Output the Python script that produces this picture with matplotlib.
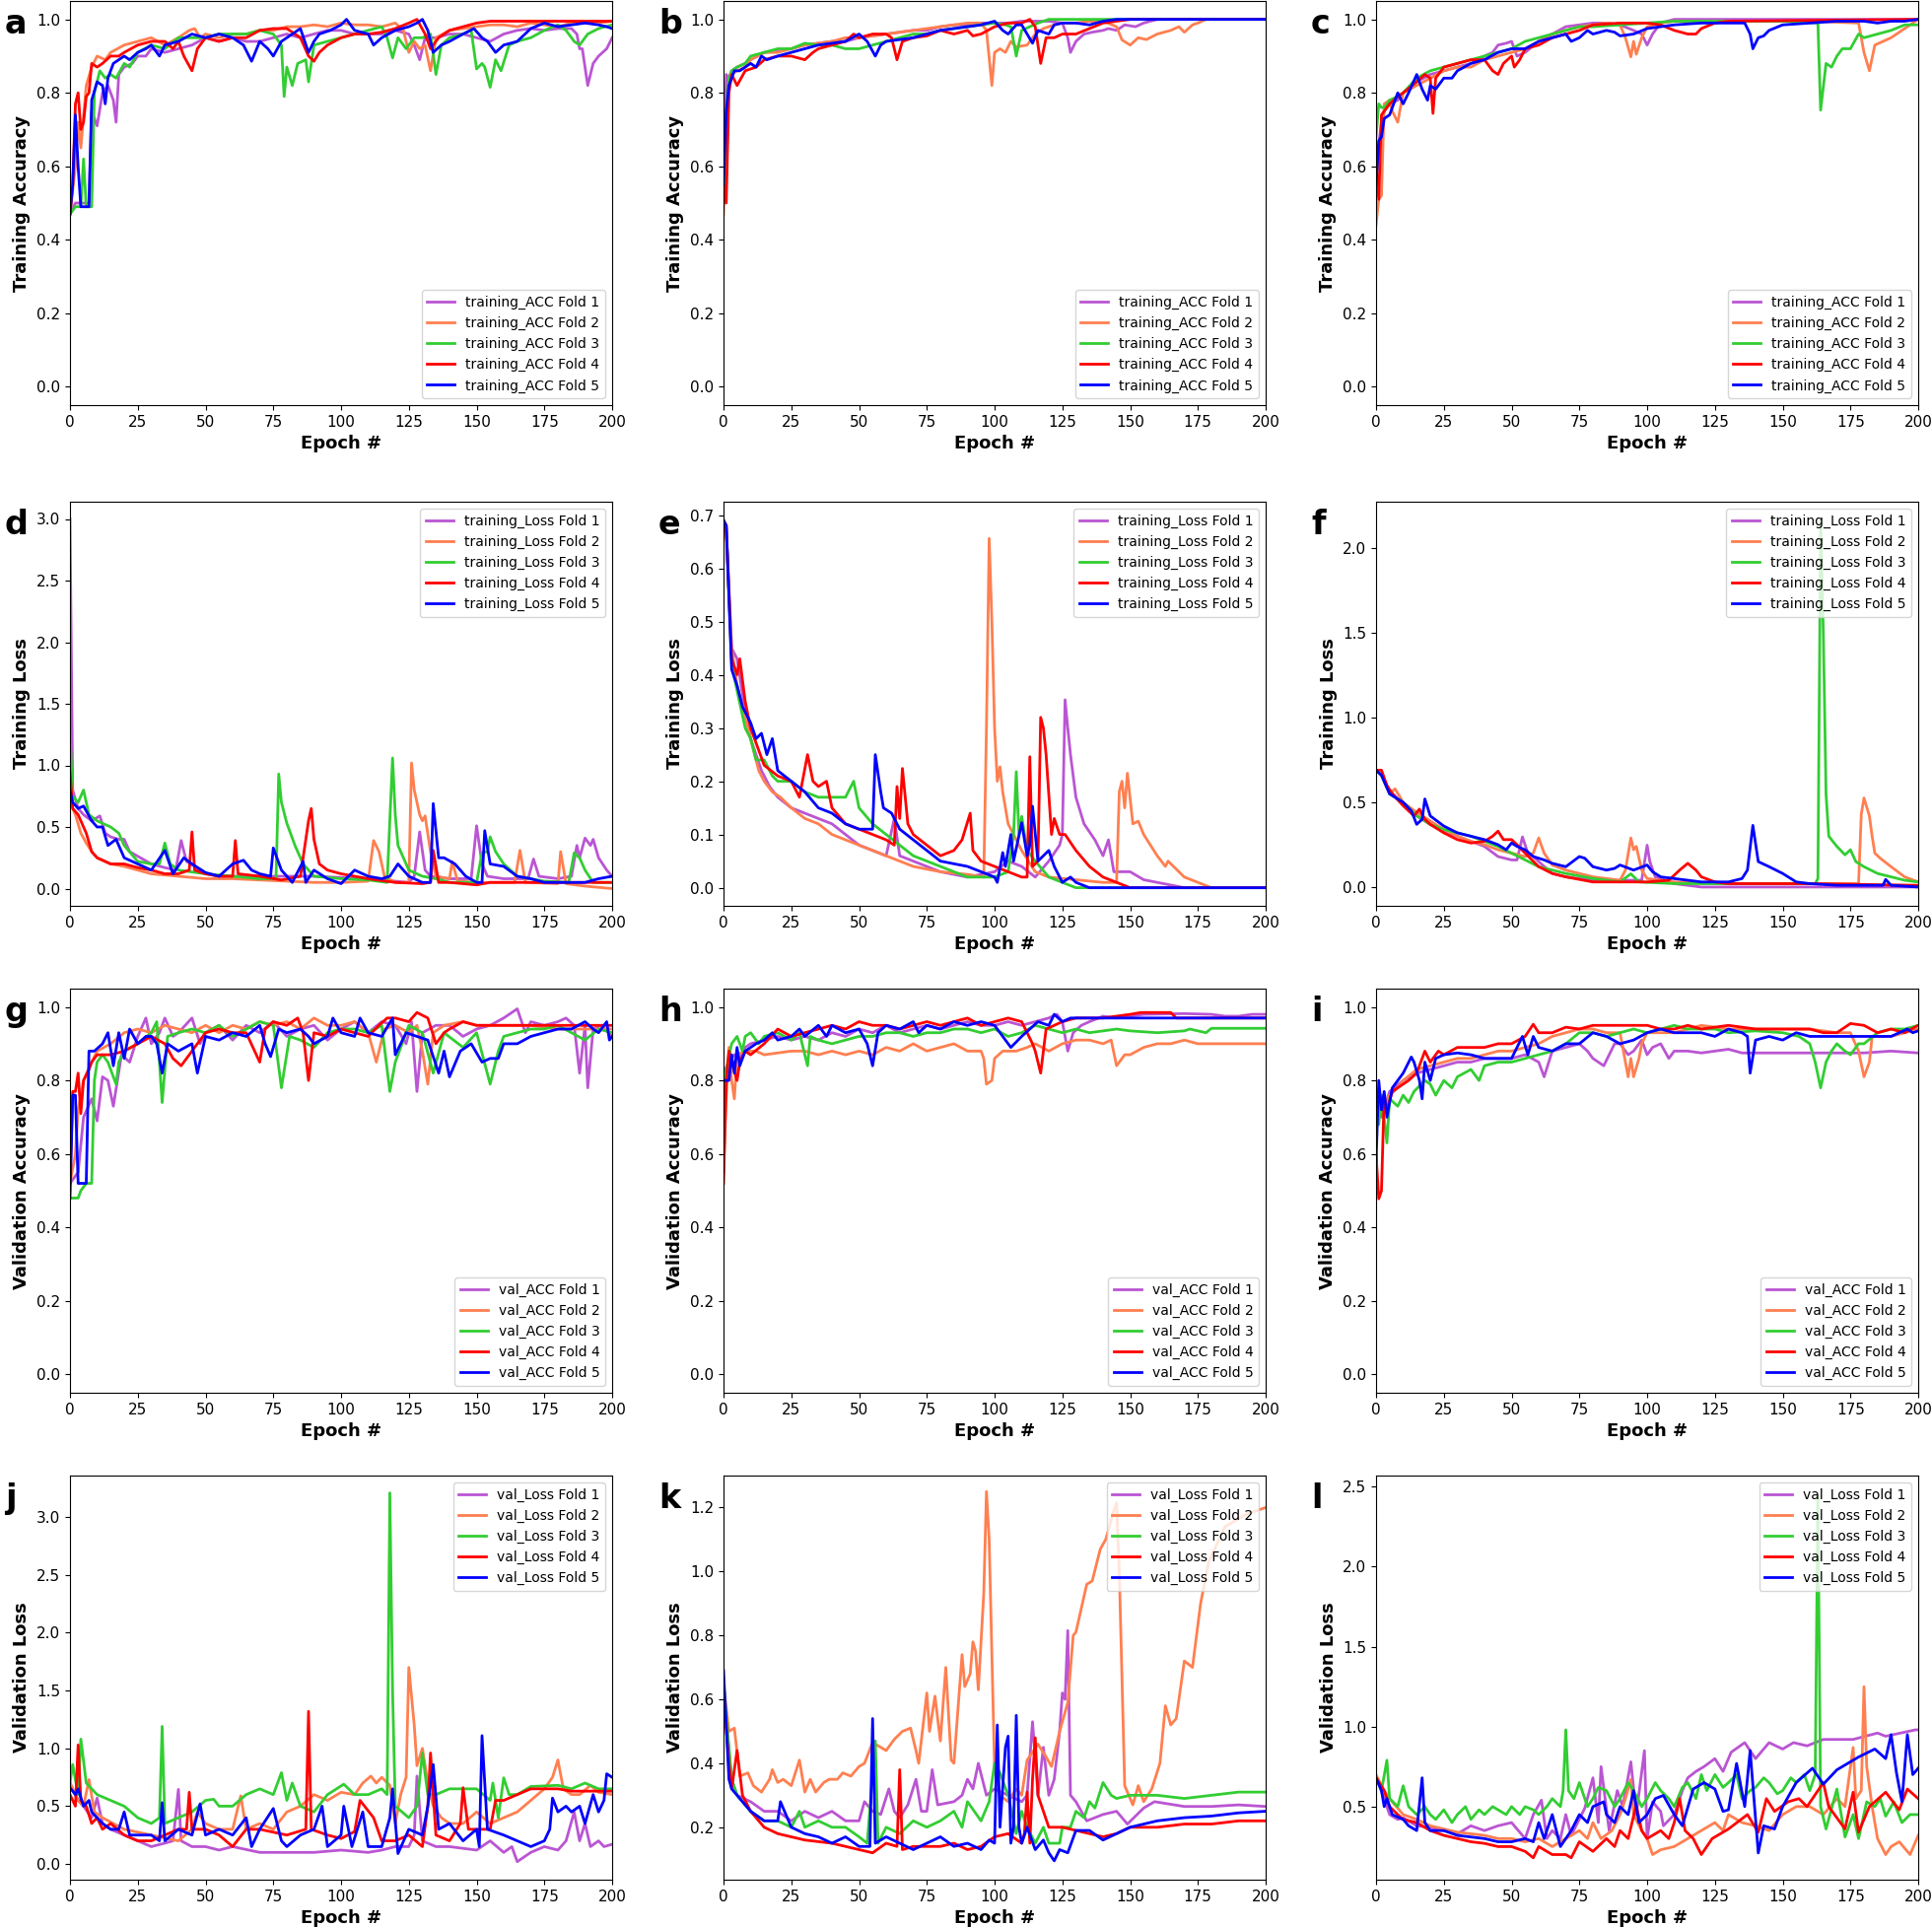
import matplotlib
matplotlib.use("Agg")
import matplotlib.pyplot as plt

# (epoch, value) pairs, fold 1..5 per panel

# a: training accuracy, model 1
a1 = [(0,.47),(2,.5),(5,.5),(7,.5),(8,.75),(10,.71),(12,.8),(14,.82),(16,.78),(17,.72),(18,.85),(20,.87),(23,.88),(25,.9),(28,.9),(30,.92),(35,.91),(40,.92),(45,.93),(50,.95),(55,.94),(60,.95),(65,.94),(70,.94),(75,.95),(80,.96),(85,.95),(90,.96),(95,.97),(100,.97),(105,.96),(110,.96),(115,.96),(120,.97),(125,.96),(127,.93),(129,.89),(131,.95),(135,.95),(140,.96),(145,.96),(150,.95),(155,.94),(160,.96),(165,.97),(170,.975),(175,.97),(180,.975),(185,.975),(187,.96),(188,.92),(189,.92),(191,.82),(193,.88),(195,.9),(198,.92),(200,.95)]
a2 = [(0,.47),(2,.6),(3,.72),(4,.65),(6,.82),(8,.87),(10,.9),(13,.89),(15,.91),(20,.93),(25,.94),(30,.95),(35,.93),(40,.95),(44,.97),(46,.975),(48,.95),(50,.96),(55,.95),(60,.96),(65,.96),(70,.97),(75,.97),(80,.98),(85,.98),(90,.985),(95,.98),(100,.99),(105,.985),(110,.985),(115,.98),(120,.99),(123,.97),(125,.91),(127,.94),(129,.92),(131,.93),(133,.86),(135,.95),(140,.97),(145,.975),(150,.98),(155,.985),(160,.985),(165,.98),(170,.99),(175,.985),(180,.98),(185,.99),(190,.99),(195,.99),(200,.995)]
a3 = [(0,.47),(2,.49),(4,.49),(5,.62),(6,.49),(8,.49),(9,.8),(11,.86),(13,.84),(15,.85),(17,.84),(20,.88),(22,.87),(25,.91),(30,.93),(35,.92),(40,.95),(45,.95),(50,.95),(55,.96),(60,.96),(65,.96),(70,.97),(75,.96),(78,.93),(79,.79),(80,.87),(82,.82),(84,.88),(87,.89),(88,.83),(90,.93),(95,.94),(100,.95),(105,.96),(110,.97),(115,.98),(117,.95),(119,.895),(121,.95),(124,.92),(127,.95),(130,.95),(133,.96),(135,.85),(137,.93),(140,.95),(145,.96),(148,.97),(150,.865),(152,.88),(153,.87),(155,.815),(157,.89),(159,.86),(162,.93),(165,.94),(170,.95),(175,.97),(180,.985),(183,.97),(186,.94),(188,.93),(191,.96),(195,.975),(200,.985)]
a4 = [(0,.47),(1,.55),(2,.77),(3,.8),(4,.7),(5,.72),(6,.79),(7,.8),(8,.88),(10,.87),(12,.88),(15,.9),(18,.9),(20,.91),(25,.93),(30,.94),(35,.94),(38,.92),(40,.94),(42,.9),(45,.86),(47,.92),(50,.95),(55,.94),(60,.95),(65,.95),(70,.97),(75,.975),(80,.975),(85,.95),(88,.9),(90,.886),(92,.91),(95,.93),(100,.95),(105,.96),(110,.96),(115,.965),(120,.975),(125,.99),(128,1.0),(131,.96),(133,.92),(136,.95),(140,.97),(145,.98),(150,.99),(155,.995),(200,.995)]
a5 = [(0,.47),(1,.55),(2,.74),(3,.6),(4,.49),(7,.49),(8,.78),(10,.83),(12,.82),(13,.77),(14,.84),(16,.88),(18,.89),(20,.9),(22,.89),(25,.91),(28,.92),(30,.93),(33,.9),(35,.93),(40,.94),(45,.96),(50,.95),(55,.96),(60,.95),(64,.93),(67,.886),(70,.94),(73,.92),(75,.9),(78,.94),(82,.96),(85,.975),(88,.91),(90,.94),(92,.96),(96,.97),(100,.985),(102,1.0),(105,.97),(110,.96),(112,.93),(115,.95),(120,.97),(125,.98),(128,.99),(130,1.0),(132,.97),(134,.91),(137,.93),(140,.94),(145,.96),(149,.975),(152,.95),(154,.94),(157,.91),(160,.93),(165,.94),(170,.975),(175,.99),(180,.98),(185,.985),(190,.99),(195,.985),(198,.98),(200,.975)]

# b: training accuracy, model 2
b1 = [(0,.5),(1,.85),(2,.84),(3,.86),(5,.87),(8,.88),(10,.89),(15,.91),(20,.915),(25,.92),(30,.93),(35,.935),(40,.94),(45,.94),(50,.95),(55,.955),(60,.96),(65,.965),(70,.97),(75,.97),(80,.98),(85,.985),(90,.985),(95,.99),(100,.99),(105,.99),(110,.995),(115,.995),(120,.995),(125,.99),(127,.95),(128,.91),(130,.94),(133,.96),(136,.965),(140,.97),(142,.975),(145,.97),(148,.985),(152,.98),(155,.99),(160,1.0),(200,1.0)]
b2 = [(0,.47),(1,.7),(2,.82),(3,.85),(5,.86),(8,.87),(10,.89),(15,.91),(20,.91),(25,.92),(30,.93),(35,.935),(40,.94),(45,.95),(50,.95),(55,.955),(60,.96),(65,.965),(70,.97),(75,.975),(80,.98),(85,.985),(90,.99),(95,.99),(97,.97),(99,.82),(100,.91),(102,.92),(104,.91),(106,.94),(108,.925),(112,.93),(115,.96),(118,.975),(122,.985),(125,.99),(130,.99),(135,.995),(140,.995),(145,.98),(147,.944),(150,.93),(153,.95),(156,.945),(160,.96),(165,.97),(168,.98),(170,.965),(173,.985),(175,.99),(178,1.0),(200,1.0)]
b3 = [(0,.5),(1,.75),(2,.84),(3,.86),(5,.87),(8,.88),(10,.9),(15,.91),(20,.92),(25,.92),(30,.935),(35,.93),(40,.93),(45,.92),(50,.92),(55,.93),(60,.94),(65,.95),(70,.96),(75,.96),(80,.97),(85,.975),(90,.98),(95,.985),(100,.99),(104,.985),(106,.98),(108,.9),(110,.97),(113,.98),(116,.99),(120,1.0),(200,1.0)]
b4 = [(0,.55),(1,.5),(2,.8),(3,.85),(5,.82),(8,.86),(12,.87),(15,.89),(20,.9),(25,.9),(30,.89),(33,.91),(35,.92),(40,.93),(45,.94),(48,.96),(50,.95),(55,.96),(60,.96),(62,.95),(64,.89),(66,.94),(70,.95),(75,.955),(80,.97),(85,.96),(90,.97),(92,.955),(95,.96),(100,.98),(105,.99),(110,.99),(113,1.0),(115,.98),(117,.88),(119,.95),(122,.95),(125,.96),(130,.96),(135,.975),(140,.99),(145,.995),(150,1.0),(200,1.0)]
b5 = [(0,.55),(1,.75),(2,.82),(4,.86),(6,.86),(8,.87),(10,.88),(12,.87),(14,.9),(16,.89),(20,.9),(25,.91),(30,.92),(35,.93),(40,.935),(45,.94),(50,.96),(53,.94),(56,.9),(58,.93),(60,.94),(65,.945),(70,.95),(75,.96),(80,.97),(85,.975),(90,.98),(95,.985),(100,.995),(103,.97),(105,.96),(108,.985),(110,.985),(112,.96),(114,.935),(116,.97),(120,.96),(122,.985),(125,.99),(130,.99),(135,.985),(140,.995),(145,1.0),(200,1.0)]

# c: training accuracy, model 3
c1 = [(0,.55),(1,.66),(2,.72),(3,.75),(5,.77),(8,.78),(10,.8),(15,.83),(20,.85),(25,.86),(30,.87),(35,.88),(40,.9),(43,.91),(45,.93),(48,.935),(50,.94),(52,.9),(55,.91),(60,.94),(65,.96),(70,.98),(75,.985),(80,.99),(85,.99),(90,.985),(95,.97),(98,.96),(100,.93),(102,.96),(105,.99),(110,1.0),(200,1.0)]
c2 = [(0,.44),(1,.51),(2,.52),(3,.77),(5,.78),(6,.75),(8,.72),(10,.8),(15,.82),(20,.84),(25,.86),(30,.87),(35,.87),(40,.89),(45,.9),(50,.91),(55,.92),(60,.94),(65,.96),(70,.97),(75,.98),(80,.985),(85,.99),(90,.985),(92,.95),(94,.898),(95,.94),(96,.905),(98,.95),(100,.98),(105,.99),(110,.995),(120,.995),(140,.995),(160,.995),(178,.99),(180,.91),(182,.86),(184,.93),(187,.94),(190,.95),(195,.975),(200,1.0)]
c3 = [(0,.68),(1,.77),(2,.76),(3,.76),(5,.78),(8,.79),(10,.8),(15,.84),(20,.86),(25,.87),(30,.88),(35,.89),(40,.9),(45,.91),(50,.92),(55,.94),(60,.95),(65,.96),(70,.97),(75,.98),(80,.98),(90,.985),(100,.99),(110,.995),(130,.995),(150,.995),(163,.99),(164,.753),(166,.88),(168,.87),(170,.9),(172,.92),(175,.92),(178,.96),(180,.95),(185,.96),(190,.97),(195,.985),(200,.985)]
c4 = [(0,.6),(1,.51),(2,.74),(3,.75),(5,.77),(8,.79),(10,.8),(15,.83),(18,.85),(20,.84),(21,.744),(22,.84),(25,.87),(30,.88),(35,.89),(40,.89),(43,.86),(45,.85),(47,.88),(50,.9),(51,.87),(53,.89),(55,.92),(60,.93),(65,.95),(70,.96),(75,.97),(80,.985),(90,.99),(100,.99),(105,.985),(110,.97),(115,.96),(118,.96),(120,.975),(125,.99),(130,.995),(200,1.0)]
c5 = [(0,.55),(1,.67),(2,.68),(3,.73),(5,.74),(8,.8),(10,.77),(12,.8),(15,.85),(17,.81),(19,.78),(20,.82),(22,.81),(25,.84),(28,.84),(30,.86),(35,.88),(40,.89),(45,.91),(50,.92),(55,.92),(60,.94),(65,.95),(70,.96),(72,.94),(75,.95),(78,.97),(80,.96),(85,.97),(88,.965),(90,.955),(95,.96),(100,.975),(105,.98),(110,.985),(120,.99),(130,.99),(136,.99),(138,.96),(139,.92),(141,.95),(143,.955),(145,.97),(150,.985),(160,.99),(170,.995),(180,.995),(185,.99),(190,.995),(195,.995),(200,1.0)]

# d: training loss, model 1
d1 = [(0,3.0),(1,.8),(3,.65),(5,.6),(8,.55),(11,.59),(13,.45),(15,.42),(18,.4),(20,.4),(22,.3),(26,.25),(30,.2),(35,.17),(39,.15),(41,.39),(43,.22),(46,.18),(50,.12),(55,.1),(60,.1),(70,.1),(80,.1),(90,.1),(100,.09),(110,.08),(120,.06),(125,.05),(127,.1),(129,.46),(131,.15),(133,.1),(140,.08),(148,.08),(150,.51),(152,.2),(154,.1),(160,.08),(169,.08),(171,.24),(173,.1),(180,.08),(185,.1),(187,.35),(188,.25),(190,.41),(192,.35),(193,.4),(195,.25),(198,.15),(200,.1)]
d2 = [(0,.7),(2,.6),(4,.45),(6,.37),(8,.3),(10,.25),(15,.2),(20,.18),(25,.15),(30,.12),(40,.1),(50,.08),(60,.08),(70,.07),(80,.06),(90,.05),(100,.05),(110,.06),(112,.39),(114,.3),(116,.1),(120,.05),(125,.05),(126,1.02),(127,.8),(129,.6),(130,.55),(131,.59),(133,.3),(135,.1),(140,.08),(141,.22),(143,.06),(150,.05),(164,.05),(166,.31),(168,.05),(180,.04),(181,.3),(183,.04),(190,.02),(200,0.0)]
d3 = [(0,1.26),(1,.75),(3,.7),(5,.8),(7,.6),(10,.55),(13,.52),(15,.5),(18,.45),(20,.35),(25,.22),(30,.2),(33,.2),(35,.37),(37,.2),(40,.15),(50,.12),(60,.1),(70,.08),(76,.08),(77,.93),(78,.7),(80,.53),(83,.35),(86,.2),(90,.1),(100,.08),(110,.07),(117,.05),(119,1.06),(120,.6),(121,.35),(123,.25),(125,.15),(130,.1),(135,.08),(140,.05),(150,.05),(152,.29),(154,.3),(155,.42),(157,.3),(160,.2),(165,.1),(175,.06),(184,.05),(186,.29),(188,.25),(190,.15),(193,.05),(200,.05)]
d4 = [(0,.95),(1,.65),(3,.6),(5,.5),(6,.45),(8,.3),(10,.25),(15,.2),(20,.2),(25,.17),(30,.15),(35,.12),(40,.12),(44,.15),(45,.46),(46,.15),(50,.12),(55,.1),(60,.1),(61,.39),(62,.12),(70,.1),(78,.07),(85,.1),(88,.55),(89,.65),(90,.4),(92,.2),(95,.15),(100,.12),(110,.08),(120,.05),(130,.04),(133,.05),(134,.31),(136,.05),(140,.05),(150,.03),(155,.05),(200,.05)]
d5 = [(0,.8),(1,.7),(3,.65),(5,.67),(8,.55),(10,.5),(12,.5),(14,.35),(17,.4),(20,.25),(25,.2),(30,.15),(35,.31),(38,.12),(42,.25),(45,.2),(50,.13),(55,.1),(60,.2),(64,.23),(67,.15),(70,.12),(74,.1),(75,.33),(78,.15),(82,.05),(86,.22),(87,.05),(90,.15),(95,.08),(100,.04),(105,.15),(110,.1),(115,.08),(118,.1),(121,.2),(125,.1),(130,.05),(133,.05),(134,.69),(136,.25),(138,.25),(142,.2),(146,.1),(150,.05),(152,.05),(153,.47),(155,.2),(160,.18),(165,.1),(170,.08),(175,.05),(185,.05),(190,.05),(195,.08),(200,.1)]

# e: training loss, model 2
e1 = [(0,.69),(1,.68),(3,.45),(5,.43),(8,.33),(10,.28),(14,.22),(17,.19),(20,.17),(25,.15),(30,.14),(35,.13),(40,.12),(45,.1),(50,.08),(55,.07),(60,.06),(63,.13),(65,.06),(70,.05),(80,.03),(90,.02),(100,.03),(105,.05),(110,.04),(115,.02),(120,.05),(124,.08),(125,.1),(126,.353),(127,.3),(128,.25),(130,.17),(133,.12),(137,.09),(140,.06),(142,.09),(144,.03),(150,.03),(155,.015),(160,.01),(170,0.0),(200,0.0)]
e2 = [(0,.69),(1,.66),(3,.45),(5,.38),(8,.32),(10,.28),(13,.22),(15,.2),(18,.18),(21,.17),(25,.15),(30,.13),(35,.12),(40,.1),(45,.09),(50,.08),(55,.07),(60,.06),(70,.04),(80,.03),(90,.025),(96,.02),(97,.3),(98,.656),(99,.5),(100,.3),(101,.2),(102,.227),(103,.18),(105,.12),(108,.09),(110,.07),(115,.03),(120,.02),(130,.015),(140,.01),(145,.01),(146,.18),(147,.2),(148,.15),(149,.215),(151,.12),(153,.125),(155,.1),(160,.06),(163,.04),(164,.05),(170,.02),(175,.01),(180,0.0),(200,0.0)]
e3 = [(0,.69),(1,.68),(3,.42),(5,.37),(8,.3),(10,.28),(12,.24),(15,.24),(18,.21),(20,.2),(25,.2),(30,.18),(35,.17),(40,.17),(45,.17),(48,.2),(50,.15),(55,.12),(60,.1),(70,.06),(80,.04),(90,.02),(100,.02),(105,.03),(107,.1),(108,.218),(109,.1),(110,.134),(112,.07),(115,.05),(120,.02),(125,.01),(130,0.0),(200,0.0)]
e4 = [(0,.69),(1,.68),(3,.43),(5,.4),(6,.43),(8,.35),(10,.3),(15,.23),(20,.21),(25,.2),(28,.17),(31,.25),(33,.2),(35,.19),(38,.2),(40,.15),(45,.12),(50,.11),(55,.1),(60,.09),(63,.08),(64,.19),(65,.13),(66,.224),(68,.12),(70,.1),(75,.08),(80,.06),(85,.07),(88,.09),(91,.14),(92,.07),(95,.05),(100,.04),(105,.03),(110,.02),(112,.02),(113,.246),(114,.04),(116,.05),(117,.32),(118,.3),(119,.25),(121,.1),(122,.13),(124,.1),(126,.1),(130,.07),(135,.04),(140,.02),(145,.01),(150,0.0),(200,0.0)]
e5 = [(0,.69),(1,.68),(3,.41),(5,.38),(7,.34),(10,.31),(12,.28),(14,.29),(16,.25),(18,.28),(20,.22),(25,.2),(30,.18),(35,.15),(40,.14),(45,.12),(50,.11),(55,.11),(56,.25),(58,.18),(59,.15),(62,.14),(65,.11),(70,.09),(75,.07),(80,.05),(90,.04),(95,.03),(100,.02),(101,.01),(103,.066),(104,.04),(106,.1),(107,.05),(110,.122),(112,.06),(113,.08),(114,.153),(116,.05),(118,.06),(120,.07),(122,.04),(125,.01),(128,.02),(130,.01),(135,0.0),(200,0.0)]

# f: training loss, model 3
f1 = [(0,.69),(2,.66),(5,.57),(10,.49),(15,.42),(20,.37),(25,.33),(30,.3),(35,.27),(40,.24),(45,.18),(50,.16),(52,.16),(54,.296),(56,.2),(58,.18),(60,.15),(65,.08),(70,.06),(80,.04),(90,.04),(98,.04),(100,.247),(101,.15),(103,.06),(105,.05),(110,.02),(120,0.0),(200,0.0)]
f2 = [(0,.69),(2,.66),(5,.55),(7,.58),(10,.5),(15,.44),(20,.39),(25,.34),(30,.3),(35,.27),(40,.25),(45,.22),(50,.2),(55,.18),(58,.2),(60,.29),(62,.2),(65,.13),(70,.1),(80,.06),(90,.04),(92,.1),(94,.29),(95,.22),(96,.24),(98,.1),(100,.05),(110,.03),(130,.02),(160,.02),(178,.02),(179,.43),(180,.526),(182,.42),(183,.3),(184,.2),(186,.17),(190,.12),(195,.06),(200,.03)]
f3 = [(0,.69),(2,.66),(5,.55),(10,.5),(15,.42),(20,.37),(25,.34),(30,.32),(35,.3),(40,.27),(45,.24),(50,.2),(55,.16),(60,.12),(65,.1),(70,.08),(80,.05),(90,.03),(94,.078),(97,.03),(110,.02),(130,.02),(150,.02),(162,.02),(163,.05),(164,2.16),(165,1.5),(166,.55),(167,.3),(170,.24),(173,.19),(175,.22),(177,.15),(180,.12),(185,.08),(190,.06),(195,.04),(200,.03)]
f4 = [(0,.69),(2,.69),(4,.6),(6,.55),(10,.48),(14,.42),(16,.46),(18,.4),(20,.37),(25,.32),(30,.28),(35,.26),(40,.27),(43,.3),(45,.33),(47,.28),(50,.28),(52,.25),(55,.2),(60,.12),(65,.08),(70,.06),(80,.03),(90,.03),(100,.03),(108,.04),(112,.1),(115,.14),(118,.1),(120,.06),(125,.03),(130,.02),(160,.02),(200,.01)]
f5 = [(0,.69),(2,.66),(5,.55),(10,.5),(13,.45),(15,.37),(17,.4),(18,.52),(20,.42),(25,.36),(30,.32),(35,.3),(40,.28),(45,.25),(48,.22),(50,.26),(52,.24),(55,.22),(58,.18),(62,.16),(65,.14),(70,.12),(75,.18),(77,.17),(80,.12),(85,.1),(88,.11),(90,.13),(95,.1),(100,.13),(102,.09),(105,.06),(110,.05),(120,.03),(130,.03),(135,.05),(137,.1),(139,.364),(141,.15),(145,.12),(150,.08),(155,.03),(160,.02),(170,.01),(187,.01),(188,.045),(190,.01),(200,0.0)]

# g: validation accuracy, model 1
g1 = [(0,.52),(3,.55),(5,.7),(8,.75),(10,.69),(12,.81),(14,.8),(16,.73),(19,.87),(22,.85),(25,.92),(28,.97),(30,.9),(33,.93),(35,.97),(38,.92),(40,.93),(45,.97),(48,.9),(50,.93),(55,.95),(60,.91),(65,.95),(70,.93),(75,.96),(80,.92),(85,.94),(90,.95),(95,.91),(100,.94),(105,.96),(110,.93),(115,.96),(120,.95),(124,.9),(126,.96),(128,.77),(130,.93),(135,.95),(140,.95),(145,.92),(150,.94),(155,.95),(160,.97),(165,.995),(168,.93),(170,.96),(175,.95),(180,.96),(183,.97),(186,.95),(188,.82),(190,.95),(191,.78),(193,.94),(196,.95),(200,.92)]
g2 = [(0,.52),(2,.6),(3,.72),(5,.8),(8,.85),(10,.88),(15,.9),(20,.93),(25,.94),(30,.93),(35,.95),(40,.94),(45,.93),(50,.95),(55,.93),(60,.95),(65,.94),(70,.96),(75,.95),(80,.96),(85,.94),(90,.97),(95,.95),(100,.95),(105,.96),(110,.93),(113,.85),(116,.94),(120,.95),(125,.93),(128,.95),(130,.88),(132,.79),(134,.93),(138,.95),(145,.96),(150,.95),(160,.95),(170,.95),(180,.94),(190,.94),(200,.94)]
g3 = [(0,.48),(3,.48),(4,.5),(6,.52),(8,.52),(9,.8),(10,.85),(12,.87),(14,.85),(17,.79),(18,.85),(20,.88),(25,.9),(30,.93),(32,.96),(34,.74),(36,.92),(40,.93),(45,.94),(50,.93),(55,.95),(60,.92),(65,.94),(70,.96),(75,.95),(78,.78),(81,.92),(85,.91),(90,.89),(95,.93),(100,.94),(105,.94),(110,.93),(115,.95),(118,.77),(120,.85),(125,.95),(130,.93),(134,.82),(138,.93),(145,.89),(150,.93),(155,.79),(158,.88),(160,.92),(165,.93),(170,.94),(175,.94),(180,.95),(185,.93),(190,.91),(195,.94),(200,.93)]
g4 = [(0,.52),(1,.77),(2,.77),(3,.82),(4,.71),(5,.8),(7,.83),(8,.85),(10,.87),(15,.87),(20,.88),(25,.9),(30,.92),(35,.9),(38,.86),(41,.84),(45,.88),(50,.93),(55,.94),(60,.93),(65,.93),(70,.85),(72,.94),(75,.96),(80,.95),(84,.97),(86,.93),(88,.8),(90,.93),(95,.92),(100,.94),(105,.93),(110,.92),(114,.95),(117,.97),(120,.97),(125,.96),(128,.985),(132,.97),(135,.9),(138,.93),(140,.94),(145,.96),(150,.95),(200,.95)]
g5 = [(0,.48),(1,.76),(2,.76),(3,.52),(6,.52),(7,.88),(9,.88),(12,.9),(14,.93),(16,.84),(18,.93),(20,.86),(22,.94),(25,.9),(28,.92),(30,.92),(32,.9),(34,.82),(36,.9),(40,.88),(45,.9),(47,.82),(50,.92),(55,.91),(60,.93),(65,.92),(70,.95),(72,.9),(74,.865),(77,.94),(80,.93),(85,.94),(88,.92),(90,.9),(95,.92),(97,.97),(100,.93),(105,.92),(107,.97),(110,.93),(115,.92),(119,.97),(120,.87),(124,.93),(128,.92),(132,.91),(136,.82),(138,.88),(140,.81),(144,.88),(148,.9),(152,.85),(155,.86),(158,.86),(160,.9),(165,.9),(170,.92),(175,.93),(180,.94),(185,.94),(190,.96),(193,.94),(195,.93),(198,.96),(199,.91),(200,.92)]

# h: validation accuracy, model 2
h1 = [(0,.82),(2,.85),(4,.87),(6,.86),(8,.89),(10,.9),(15,.91),(20,.92),(25,.91),(30,.92),(35,.91),(40,.93),(45,.92),(50,.94),(55,.93),(60,.95),(65,.93),(70,.94),(75,.95),(80,.94),(85,.95),(90,.96),(95,.95),(100,.95),(105,.96),(110,.95),(115,.96),(120,.97),(123,.98),(125,.96),(127,.88),(129,.93),(132,.95),(135,.96),(140,.975),(145,.97),(150,.975),(155,.98),(170,.982),(180,.98),(185,.975),(190,.975),(195,.98),(200,.98)]
h2 = [(0,.55),(1,.75),(2,.89),(3,.8),(4,.75),(5,.87),(8,.88),(12,.88),(15,.87),(20,.875),(25,.88),(30,.88),(35,.87),(40,.88),(45,.87),(50,.88),(55,.87),(60,.89),(65,.88),(70,.9),(75,.88),(80,.89),(85,.9),(90,.88),(95,.88),(96,.86),(97,.79),(99,.8),(100,.86),(103,.88),(108,.88),(112,.89),(115,.9),(120,.88),(125,.9),(130,.91),(135,.91),(140,.9),(143,.91),(145,.84),(148,.87),(150,.87),(155,.89),(160,.9),(165,.9),(170,.91),(175,.9),(200,.9)]
h3 = [(0,.6),(1,.83),(3,.9),(5,.92),(7,.88),(8,.92),(10,.93),(13,.9),(15,.92),(20,.93),(25,.91),(28,.93),(31,.84),(32,.92),(35,.91),(40,.9),(45,.91),(50,.92),(55,.92),(60,.93),(65,.93),(70,.92),(75,.93),(80,.93),(85,.94),(90,.94),(95,.93),(100,.94),(105,.92),(110,.93),(115,.95),(120,.94),(125,.93),(130,.94),(135,.93),(140,.935),(145,.94),(150,.935),(160,.93),(170,.935),(172,.94),(175,.935),(178,.93),(180,.942),(200,.942)]
h4 = [(0,.52),(1,.8),(2,.88),(3,.85),(5,.8),(6,.85),(8,.88),(10,.87),(15,.9),(20,.94),(25,.92),(30,.93),(35,.94),(40,.95),(45,.94),(50,.96),(55,.95),(60,.95),(65,.94),(70,.95),(75,.96),(80,.95),(85,.96),(90,.97),(95,.95),(100,.96),(105,.97),(110,.96),(114,.9),(115,.88),(117,.82),(119,.94),(122,.95),(125,.96),(130,.97),(140,.97),(150,.98),(154,.985),(165,.985),(167,.97),(200,.97)]
h5 = [(0,.8),(2,.8),(3,.87),(4,.82),(5,.89),(6,.84),(8,.88),(10,.89),(12,.9),(15,.91),(18,.93),(20,.91),(25,.92),(28,.94),(30,.92),(35,.95),(38,.92),(40,.95),(45,.93),(50,.94),(53,.9),(55,.84),(57,.93),(60,.95),(65,.94),(70,.96),(72,.93),(75,.95),(80,.94),(85,.96),(90,.95),(95,.96),(100,.95),(103,.92),(106,.89),(110,.92),(113,.94),(116,.96),(120,.95),(122,.98),(125,.96),(128,.97),(135,.97),(200,.97)]

# i: validation accuracy, model 3
i1 = [(0,.75),(2,.7),(5,.77),(10,.8),(15,.82),(20,.83),(25,.84),(30,.85),(35,.85),(40,.86),(45,.86),(50,.86),(55,.87),(60,.85),(62,.81),(65,.88),(70,.89),(75,.9),(78,.88),(80,.86),(84,.84),(88,.9),(90,.9),(93,.87),(95,.88),(98,.91),(100,.87),(102,.89),(105,.9),(108,.86),(110,.88),(115,.88),(120,.875),(130,.885),(135,.875),(150,.875),(170,.875),(180,.875),(190,.88),(200,.875)]
i2 = [(0,.78),(2,.72),(5,.76),(8,.78),(10,.8),(15,.83),(20,.84),(25,.85),(30,.86),(35,.86),(40,.87),(45,.88),(50,.88),(55,.89),(60,.9),(65,.92),(70,.93),(75,.94),(80,.94),(85,.93),(90,.93),(93,.81),(94,.86),(95,.81),(97,.86),(98,.9),(100,.93),(110,.93),(115,.94),(120,.95),(130,.94),(140,.94),(150,.94),(160,.94),(170,.93),(175,.93),(178,.88),(180,.81),(182,.85),(183,.92),(190,.92),(195,.93),(200,.94)]
i3 = [(0,.77),(1,.68),(2,.76),(4,.63),(5,.75),(8,.73),(10,.76),(12,.74),(14,.77),(18,.8),(20,.79),(22,.76),(25,.8),(28,.78),(30,.81),(35,.83),(38,.8),(40,.84),(45,.85),(50,.85),(55,.86),(60,.87),(65,.88),(70,.9),(75,.93),(80,.93),(85,.92),(90,.93),(95,.94),(100,.93),(105,.94),(110,.95),(115,.94),(125,.94),(130,.93),(140,.935),(150,.93),(156,.92),(160,.9),(162,.85),(164,.78),(166,.85),(168,.88),(170,.9),(173,.88),(175,.87),(178,.9),(180,.9),(185,.93),(190,.94),(195,.94),(200,.95)]
i4 = [(0,.6),(1,.478),(2,.5),(3,.76),(4,.72),(6,.77),(8,.78),(10,.79),(12,.8),(15,.82),(18,.88),(20,.85),(23,.88),(25,.87),(30,.89),(40,.89),(45,.9),(50,.9),(55,.92),(58,.953),(60,.93),(65,.93),(70,.945),(75,.94),(80,.95),(100,.95),(105,.94),(110,.94),(115,.95),(120,.94),(130,.95),(140,.94),(160,.94),(165,.93),(170,.93),(175,.955),(180,.95),(185,.93),(190,.94),(195,.93),(200,.95)]
i5 = [(0,.58),(1,.8),(2,.72),(3,.77),(4,.7),(6,.78),(8,.8),(10,.82),(13,.864),(14,.85),(16,.8),(17,.75),(18,.85),(20,.8),(22,.86),(25,.87),(30,.875),(35,.87),(40,.86),(50,.86),(54,.92),(56,.87),(58,.92),(60,.89),(65,.88),(70,.9),(75,.9),(80,.93),(85,.92),(90,.9),(95,.91),(100,.93),(105,.94),(110,.93),(120,.93),(125,.92),(130,.94),(135,.93),(137,.92),(138,.82),(140,.91),(145,.92),(150,.91),(155,.93),(160,.92),(190,.92),(193,.93),(196,.94),(198,.93),(200,.935)]

# j: validation loss, model 1
j1 = [(0,.7),(3,.55),(5,.5),(8,.4),(10,.57),(12,.35),(15,.3),(20,.25),(25,.2),(30,.15),(35,.18),(38,.2),(40,.645),(41,.2),(45,.15),(50,.15),(55,.12),(60,.15),(70,.1),(80,.1),(90,.1),(100,.12),(110,.1),(115,.12),(120,.15),(125,.15),(127,.25),(128,.76),(130,.2),(135,.15),(140,.15),(150,.12),(155,.2),(160,.1),(163,.15),(165,.02),(170,.1),(175,.15),(180,.12),(183,.2),(186,.45),(188,.2),(190,.35),(192,.15),(195,.2),(197,.15),(200,.17)]
j2 = [(0,.7),(3,.55),(5,.5),(7,.73),(9,.45),(12,.4),(20,.3),(30,.25),(40,.2),(45,.3),(47,.45),(50,.35),(55,.3),(60,.3),(63,.59),(65,.3),(70,.35),(75,.3),(80,.45),(85,.5),(90,.6),(95,.55),(100,.62),(105,.6),(108,.7),(111,.76),(113,.7),(115,.75),(118,.68),(120,.35),(122,.6),(124,.75),(125,1.7),(127,1.2),(128,.85),(130,1.0),(132,.7),(134,.5),(137,.4),(140,.35),(145,.35),(150,.45),(155,.35),(160,.4),(165,.45),(170,.55),(175,.65),(178,.75),(180,.9),(182,.65),(185,.6),(188,.6),(192,.68),(195,.62),(200,.6)]
j3 = [(0,.7),(1,.86),(3,.6),(4,1.08),(6,.7),(10,.6),(15,.55),(20,.5),(25,.4),(30,.35),(33,.4),(34,1.19),(35,.35),(40,.4),(45,.45),(50,.55),(53,.56),(55,.5),(60,.5),(65,.6),(70,.65),(75,.6),(78,.79),(80,.55),(82,.7),(85,.5),(90,.45),(95,.6),(101,.69),(105,.6),(110,.6),(115,.65),(117,.6),(118,3.21),(119,1.5),(120,.5),(125,.4),(128,.5),(130,.96),(132,.6),(135,.6),(140,.65),(150,.65),(155,.55),(156,.7),(158,.4),(160,.745),(162,.6),(165,.6),(170,.67),(180,.68),(185,.65),(190,.7),(195,.65),(200,.65)]
j4 = [(0,.6),(2,.5),(3,1.03),(4,.55),(6,.5),(8,.35),(10,.4),(12,.3),(15,.35),(20,.25),(25,.2),(30,.2),(35,.25),(40,.3),(43,.3),(44,.62),(45,.3),(50,.3),(55,.25),(60,.15),(65,.3),(70,.3),(80,.25),(87,.3),(88,1.32),(89,.3),(95,.25),(100,.22),(105,.28),(107,.55),(112,.4),(115,.2),(120,.2),(125,.25),(130,.15),(132,.5),(133,.96),(135,.25),(140,.2),(144,.35),(145,.66),(147,.3),(155,.3),(157,.55),(160,.55),(165,.6),(170,.65),(180,.65),(185,.63),(200,.63)]
j5 = [(0,.66),(2,.6),(3,.65),(5,.5),(7,.55),(8,.45),(10,.4),(12,.35),(15,.3),(18,.3),(20,.45),(22,.25),(30,.25),(33,.2),(34,.53),(35,.2),(40,.3),(45,.25),(48,.52),(50,.25),(55,.3),(60,.25),(65,.4),(67,.15),(70,.3),(75,.48),(78,.2),(80,.15),(85,.25),(90,.3),(93,.5),(95,.15),(100,.25),(101,.5),(104,.15),(108,.45),(110,.15),(115,.15),(118,.4),(119,.65),(121,.09),(125,.3),(130,.25),(132,.5),(134,.86),(136,.3),(140,.35),(145,.2),(150,.3),(151,.15),(152,1.11),(154,.3),(160,.25),(165,.2),(170,.15),(175,.2),(177,.3),(178,.57),(180,.45),(183,.5),(185,.45),(188,.5),(190,.35),(193,.6),(195,.45),(197,.55),(198,.78),(200,.75)]

# k: validation loss, model 2
k1 = [(0,.62),(3,.35),(5,.3),(10,.28),(15,.25),(20,.25),(25,.22),(30,.25),(35,.23),(40,.25),(45,.22),(50,.22),(52,.28),(55,.25),(58,.24),(61,.32),(63,.25),(65,.23),(68,.27),(71,.35),(73,.25),(75,.25),(77,.38),(79,.27),(85,.28),(88,.3),(90,.35),(92,.32),(94,.4),(97,.3),(100,.32),(105,.3),(110,.28),(112,.3),(114,.53),(116,.3),(118,.45),(120,.3),(122,.35),(124,.5),(125,.62),(126,.6),(127,.815),(128,.3),(130,.28),(134,.22),(140,.24),(145,.25),(149,.21),(155,.26),(159,.28),(170,.265),(180,.265),(190,.27),(200,.265)]
k2 = [(0,.65),(2,.5),(4,.51),(6,.36),(9,.37),(11,.33),(14,.31),(17,.35),(18,.38),(20,.34),(22,.35),(25,.33),(28,.41),(30,.31),(32,.35),(34,.31),(37,.34),(39,.35),(42,.35),(44,.37),(47,.36),(50,.39),(52,.4),(55,.465),(60,.44),(63,.475),(66,.5),(69,.51),(71,.44),(72,.4),(75,.62),(76,.5),(78,.61),(80,.47),(82,.7),(84,.41),(85,.4),(88,.74),(89,.64),(91,.68),(92,.78),(93,.75),(94,.63),(96,.93),(97,1.25),(98,1.1),(100,.38),(102,.3),(105,.28),(108,.32),(110,.3),(112,.41),(116,.46),(119,.42),(121,.39),(124,.5),(127,.59),(129,.8),(130,.81),(134,.96),(136,.97),(139,1.07),(141,1.1),(144,1.19),(145,1.215),(146,1.0),(148,.33),(151,.27),(153,.33),(155,.28),(158,.32),(161,.4),(163,.58),(165,.52),(167,.54),(170,.72),(173,.7),(176,.9),(179,1.03),(185,1.14),(193,1.18),(200,1.2)]
k3 = [(0,.65),(3,.35),(5,.3),(10,.25),(15,.22),(20,.22),(25,.2),(28,.25),(30,.2),(35,.22),(40,.2),(45,.2),(50,.17),(53,.15),(56,.47),(57,.15),(60,.2),(65,.18),(70,.22),(75,.2),(80,.22),(85,.25),(88,.2),(90,.28),(95,.22),(98,.28),(100,.4),(102,.37),(105,.3),(108,.18),(110,.25),(112,.2),(115,.15),(118,.2),(120,.15),(124,.15),(125,.2),(128,.2),(130,.25),(133,.23),(135,.28),(137,.26),(140,.34),(143,.3),(145,.29),(150,.3),(160,.3),(170,.29),(180,.3),(190,.31),(200,.31)]
k4 = [(0,.62),(2,.4),(3,.32),(5,.44),(7,.3),(10,.25),(15,.2),(20,.18),(25,.17),(30,.16),(40,.15),(50,.13),(55,.12),(60,.15),(64,.14),(65,.38),(66,.13),(70,.14),(80,.14),(85,.15),(90,.13),(95,.14),(100,.17),(105,.18),(110,.15),(111,.18),(112,.31),(113,.15),(114,.35),(115,.48),(116,.3),(118,.25),(120,.2),(125,.2),(130,.19),(135,.18),(140,.17),(145,.18),(150,.2),(160,.2),(170,.21),(180,.21),(190,.22),(200,.22)]
k5 = [(0,.69),(2,.35),(3,.32),(5,.3),(10,.25),(15,.22),(20,.22),(21,.28),(25,.2),(30,.18),(35,.17),(40,.15),(45,.17),(50,.14),(54,.14),(55,.54),(56,.15),(60,.17),(65,.15),(70,.13),(75,.15),(80,.17),(85,.14),(90,.15),(95,.13),(98,.16),(100,.15),(101,.52),(102,.2),(104,.45),(105,.485),(106,.15),(107,.2),(108,.55),(109,.2),(110,.15),(112,.2),(115,.13),(118,.16),(120,.12),(122,.095),(124,.13),(127,.12),(130,.19),(135,.19),(140,.16),(145,.18),(150,.2),(155,.21),(160,.22),(170,.23),(180,.235),(190,.245),(200,.25)]

# l: validation loss, model 3
l1 = [(0,.69),(3,.55),(5,.45),(8,.42),(10,.43),(15,.38),(20,.37),(25,.35),(30,.33),(35,.38),(40,.35),(45,.38),(50,.4),(55,.3),(58,.45),(61,.54),(63,.3),(65,.35),(68,.3),(70,.45),(72,.32),(77,.49),(80,.68),(82,.4),(83,.75),(86,.35),(89,.6),(91,.5),(94,.78),(96,.45),(99,.85),(100,.3),(102,.53),(105,.47),(106,.38),(110,.45),(113,.6),(115,.68),(118,.72),(121,.75),(125,.8),(128,.72),(131,.84),(136,.9),(140,.8),(145,.9),(150,.86),(154,.9),(159,.88),(165,.92),(176,.92),(185,.96),(188,.94),(199,.98),(200,.98)]
l2 = [(0,.7),(3,.6),(5,.55),(10,.45),(15,.42),(20,.38),(25,.36),(30,.34),(35,.33),(40,.32),(45,.3),(50,.3),(55,.28),(60,.3),(65,.25),(70,.3),(75,.35),(78,.3),(80,.4),(83,.3),(87,.35),(90,.45),(92,.55),(94,.67),(95,.45),(98,.35),(100,.3),(102,.2),(105,.23),(110,.25),(115,.3),(120,.35),(125,.4),(128,.35),(130,.45),(135,.4),(140,.38),(145,.35),(150,.45),(155,.5),(160,.5),(165,.45),(170,.55),(173,.5),(176,.87),(177,.55),(179,.6),(180,1.25),(181,.75),(183,.5),(185,.3),(188,.2),(190,.25),(193,.28),(197,.2),(200,.32)]
l3 = [(0,.68),(2,.6),(4,.79),(5,.55),(8,.5),(10,.63),(12,.5),(15,.45),(18,.5),(20,.45),(22,.42),(25,.48),(28,.4),(30,.45),(33,.5),(35,.42),(38,.48),(40,.45),(43,.5),(45,.48),(48,.45),(50,.5),(53,.45),(55,.5),(58,.48),(60,.45),(63,.5),(65,.55),(68,.5),(69,.6),(70,.98),(71,.6),(73,.55),(75,.65),(78,.5),(80,.55),(82,.62),(85,.6),(88,.5),(90,.55),(93,.65),(95,.6),(98,.5),(100,.55),(103,.65),(105,.6),(108,.55),(110,.5),(113,.62),(115,.65),(118,.55),(120,.7),(122,.6),(125,.7),(128,.62),(130,.65),(133,.7),(135,.55),(138,.6),(140,.62),(143,.68),(145,.65),(148,.58),(150,.6),(153,.68),(155,.65),(158,.7),(160,.6),(162,.7),(163,2.45),(164,.5),(166,.36),(170,.61),(173,.31),(176,.45),(178,.3),(181,.53),(184,.5),(186,.55),(188,.44),(191,.53),(194,.4),(197,.45),(200,.45)]
l4 = [(0,.68),(3,.6),(5,.5),(8,.45),(10,.42),(15,.4),(20,.35),(25,.32),(30,.3),(35,.28),(40,.27),(45,.25),(50,.25),(55,.22),(58,.18),(60,.25),(65,.2),(70,.2),(72,.18),(75,.28),(80,.22),(85,.3),(88,.25),(90,.35),(93,.3),(96,.51),(98,.35),(100,.3),(105,.35),(108,.3),(110,.4),(112,.55),(114,.35),(117,.3),(120,.2),(124,.3),(130,.36),(137,.45),(141,.34),(144,.55),(147,.47),(152,.53),(156,.55),(159,.5),(165,.65),(167,.5),(173,.36),(176,.59),(178,.34),(182,.5),(188,.59),(193,.48),(196,.61),(200,.55)]
l5 = [(0,.68),(2,.6),(3,.5),(4,.55),(6,.45),(10,.42),(12,.38),(15,.35),(17,.68),(18,.4),(20,.35),(25,.35),(30,.32),(35,.31),(40,.3),(45,.28),(50,.28),(55,.3),(58,.28),(60,.4),(62,.3),(65,.45),(68,.25),(70,.3),(72,.35),(75,.45),(78,.4),(80,.5),(84,.53),(85,.45),(88,.4),(90,.5),(93,.45),(95,.6),(97,.4),(100,.45),(103,.55),(106,.57),(110,.45),(113,.38),(117,.61),(121,.65),(125,.61),(128,.47),(130,.48),(133,.77),(136,.5),(138,.85),(141,.21),(143,.38),(147,.36),(150,.5),(155,.65),(161,.74),(165,.64),(170,.73),(175,.78),(178,.81),(184,.86),(188,.8),(190,.95),(192,.71),(194,.53),(196,.95),(198,.7),(200,.74)]

colors = ["mediumorchid", "coral", "limegreen", "red", "blue"]
xticks = [0, 25, 50, 75, 100, 125, 150, 175, 200]

panels = [
    ("a", [a1, a2, a3, a4, a5], "training_ACC", "Training Accuracy", (-0.05, 1.05), "lower right"),
    ("b", [b1, b2, b3, b4, b5], "training_ACC", "Training Accuracy", (-0.05, 1.05), "lower right"),
    ("c", [c1, c2, c3, c4, c5], "training_ACC", "Training Accuracy", (-0.05, 1.05), "lower right"),
    ("d", [d1, d2, d3, d4, d5], "training_Loss", "Training Loss", (-0.14, 3.14), "upper right"),
    ("e", [e1, e2, e3, e4, e5], "training_Loss", "Training Loss", (-0.034, 0.725), "upper right"),
    ("f", [f1, f2, f3, f4, f5], "training_Loss", "Training Loss", (-0.111, 2.275), "upper right"),
    ("g", [g1, g2, g3, g4, g5], "val_ACC", "Validation Accuracy", (-0.05, 1.05), "lower right"),
    ("h", [h1, h2, h3, h4, h5], "val_ACC", "Validation Accuracy", (-0.05, 1.05), "lower right"),
    ("i", [i1, i2, i3, i4, i5], "val_ACC", "Validation Accuracy", (-0.05, 1.05), "lower right"),
    ("j", [j1, j2, j3, j4, j5], "val_Loss", "Validation Loss", (-0.136, 3.36), "upper right"),
    ("k", [k1, k2, k3, k4, k5], "val_Loss", "Validation Loss", (0.036, 1.30), "upper right"),
    ("l", [l1, l2, l3, l4, l5], "val_Loss", "Validation Loss", (0.043, 2.57), "upper right"),
]

W, H = 1960, 1955
fig = plt.figure(figsize=(W / 100, H / 100), dpi=100)

col_left = [71, 734, 1396]
row_top = [1, 509, 1003, 1497]
ax_w, ax_h = 550, 410

for n, (letter, series, name, ylab, ylim, loc) in enumerate(panels):
    r, c = n // 3, n % 3
    x0 = col_left[c]
    y0 = row_top[r]
    ax = fig.add_axes([x0 / W, 1 - (y0 + ax_h) / H, ax_w / W, ax_h / H])
    for k, s in enumerate(series):
        ep, val = zip(*s)
        ax.plot(ep, val, color=colors[k], lw=2, label="%s Fold %d" % (name, k + 1))
    ax.set_xlim(0, 200)
    ax.set_ylim(*ylim)
    ax.set_xticks(xticks)
    ax.tick_params(labelsize=11)
    ax.set_xlabel("Epoch #", fontsize=13, fontweight="bold")
    ax.set_ylabel(ylab, fontsize=13, fontweight="bold")
    ax.legend(loc=loc, fontsize=10)
    fig.text((x0 - 66) / W, 1 - (y0 + 33) / H, letter, fontsize=24,
             fontweight="bold", ha="left", va="baseline")

fig.savefig("out.png", dpi=100)
